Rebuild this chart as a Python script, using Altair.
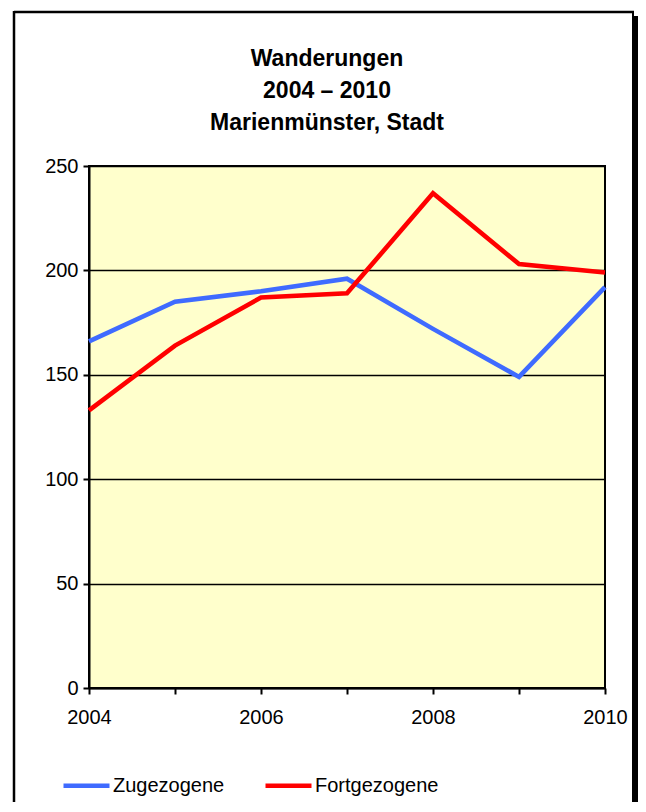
import altair as alt
import pandas as pd

years = [2004, 2005, 2006, 2007, 2008, 2009, 2010]
zugezogene = [166, 185, 190, 196, 172, 149, 192]
fortgezogene = [133, 164, 187, 189, 237, 203, 199]
series_names = ["Zugezogene", "Fortgezogene"]
series_colors = ["#3F6BFF", "#FF0000"]
title_lines = ["Wanderungen", "2004 – 2010", "Marienmünster, Stadt"]
y_ticks = [0, 50, 100, 150, 200, 250]

rows = []
for name, vals in zip(series_names, [zugezogene, fortgezogene]):
    for yr, v in zip(years, vals):
        rows.append({"Jahr": yr, "Wert": v, "Serie": name})
df = pd.DataFrame(rows)

FONT = "Liberation Sans"

lines = alt.Chart(df).mark_line(strokeWidth=4.6, strokeJoin="miter").encode(
    x=alt.X("Jahr:Q",
            scale=alt.Scale(domain=[2004, 2010], nice=False, zero=False),
            axis=alt.Axis(values=years, format="d", title=None,
                          labelExpr="datum.value % 2 == 0 ? datum.label : ''",
                          grid=False, tickSize=6, tickWidth=2, tickColor="black",
                          domainColor="black", domainWidth=2,
                          labelFontSize=20, labelFont=FONT, labelColor="black",
                          labelPadding=13, labelFlush=False)),
    y=alt.Y("Wert:Q",
            scale=alt.Scale(domain=[0, 250], nice=False),
            axis=alt.Axis(values=y_ticks, title=None,
                          grid=True, gridColor="black", gridWidth=1.7, gridOpacity=1,
                          tickSize=6, tickWidth=2, tickColor="black",
                          domainColor="black", domainWidth=2,
                          labelFontSize=20, labelFont=FONT, labelColor="black",
                          labelPadding=5)),
    color=alt.Color("Serie:N",
                    scale=alt.Scale(domain=series_names, range=series_colors),
                    legend=alt.Legend(title=None, orient="none", legendX=-28, legendY=594,
                                      direction="horizontal", columns=2,
                                      symbolType="stroke", symbolSize=2116,
                                      symbolStrokeWidth=4.6, labelFontSize=20,
                                      labelFont=FONT, labelColor="black",
                                      labelOffset=1, columnPadding=31)),
    order=alt.Order("Serie:N", sort="descending"),
)

one = alt.Data(values=[{}])
frame_top = alt.Chart(one).mark_rule(color="black", strokeWidth=2.5).encode(
    x=alt.value(-75), x2=alt.value(545), y=alt.value(-154))
frame_left = alt.Chart(one).mark_rule(color="black", strokeWidth=2.5).encode(
    x=alt.value(-75), y=alt.value(-155), y2=alt.value(640))
frame_right = alt.Chart(one).mark_rule(color="black", strokeWidth=2).encode(
    x=alt.value(544), y=alt.value(-155), y2=alt.value(640))
frame_shadow = alt.Chart(one).mark_rule(color="black", strokeWidth=5).encode(
    x=alt.value(547.5), y=alt.value(-150), y2=alt.value(640))

chart = alt.layer(lines, frame_top, frame_left, frame_right, frame_shadow).properties(
    width=516,
    height=522,
    padding={"left": 81, "top": 158, "right": 33, "bottom": 114},
    autosize=alt.AutoSizeParams(type="none"),
    title=alt.TitleParams(text=title_lines, font=FONT, fontSize=23, fontWeight="bold",
                          color="black", lineHeight=32, anchor="middle", dx=-20,
                          offset=22, dy=147),
    background="white",
).configure_view(
    fill="#FFFFCC", stroke="black", strokeWidth=2
)

chart.save("out.html", embed_options={"renderer": "svg", "actions": False})
